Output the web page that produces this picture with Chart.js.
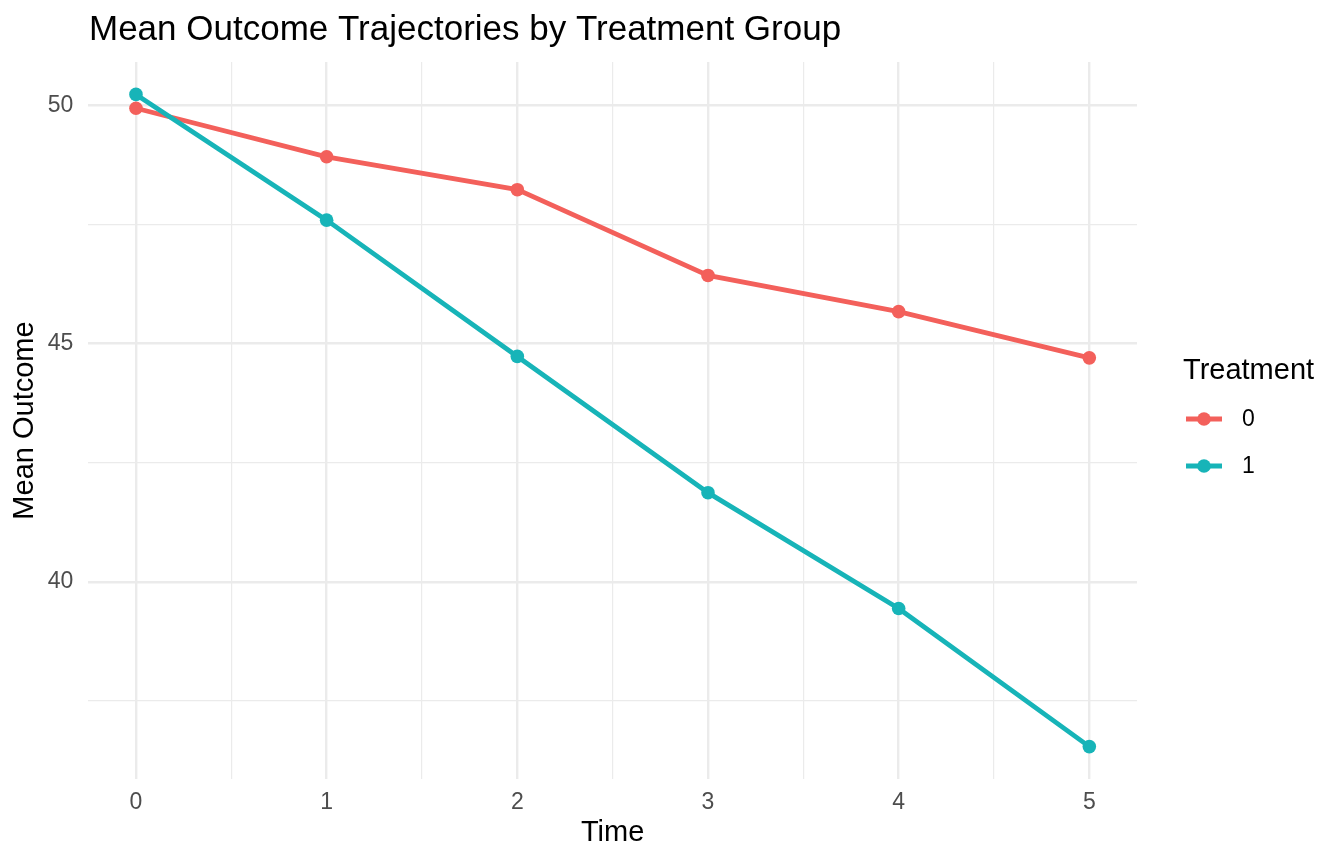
<!DOCTYPE html>
<html>
<head>
<meta charset="utf-8">
<title>Mean Outcome Trajectories by Treatment Group</title>
<script src="https://cdn.jsdelivr.net/npm/chart.js@4.4.1/dist/chart.umd.min.js"></script>
<style>
  html, body { margin: 0; padding: 0; background: #fff; }
  #wrap { width: 1344px; height: 864px; }
</style>
</head>
<body>
<div id="wrap"><canvas id="trajChart" width="1344" height="864"></canvas></div>
<script>
// values
const timePoints = [0, 1, 2, 3, 4, 5];
const groupNames = ["0", "1"];
const meanControl = [49.94, 48.92, 48.23, 46.43, 45.67, 44.70];
const meanTreated = [50.23, 47.59, 44.73, 41.87, 39.44, 36.54];
const xTickValues = [0, 0.5, 1, 1.5, 2, 2.5, 3, 3.5, 4, 4.5, 5];
const yTickValues = [37.5, 40, 42.5, 45, 47.5, 50];

const chartTitle = "Mean Outcome Trajectories by Treatment Group";
const legendTitle = "Treatment";
const lineColors = ["#F3605B", "#17B4B8"];

const FONT = "'Liberation Sans', Arial, Helvetica, sans-serif";
Chart.defaults.font.family = FONT;

const toPoints = (ys) => timePoints.map((t, i) => ({ x: t, y: ys[i] }));
const isMajor = (v) => Math.abs(v - Math.round(v)) < 1e-9;

// title and ggplot-style legend drawn on the canvas
const decor = {
  id: "decor",
  afterDraw(chart) {
    const ctx = chart.ctx;
    ctx.save();
    ctx.fillStyle = "#000";
    ctx.font = "35px " + FONT;
    ctx.textAlign = "left";
    ctx.textBaseline = "alphabetic";
    ctx.fillText(chartTitle, 89, 40);

    ctx.font = "29px " + FONT;
    ctx.fillText(legendTitle, 1183, 379);

    chart.data.datasets.forEach((ds, i) => {
      const y = 419 + i * 47;
      ctx.strokeStyle = ds.borderColor;
      ctx.lineWidth = 4.8;
      ctx.beginPath();
      ctx.moveTo(1186, y);
      ctx.lineTo(1222, y);
      ctx.stroke();
      ctx.fillStyle = ds.borderColor;
      ctx.beginPath();
      ctx.arc(1204, y, 6.8, 0, Math.PI * 2);
      ctx.fill();
      ctx.fillStyle = "#000";
      ctx.font = "23px " + FONT;
      ctx.textBaseline = "middle";
      ctx.fillText(ds.label, 1242, y + 1);
    });
    ctx.restore();
  }
};

new Chart(document.getElementById("trajChart"), {
  type: "line",
  data: {
    datasets: [
      {
        label: groupNames[0],
        data: toPoints(meanControl),
        borderColor: lineColors[0],
        backgroundColor: lineColors[0],
        order: 1
      },
      {
        label: groupNames[1],
        data: toPoints(meanTreated),
        borderColor: lineColors[1],
        backgroundColor: lineColors[1],
        order: 0
      }
    ]
  },
  options: {
    responsive: false,
    animation: false,
    devicePixelRatio: 1,
    layout: { padding: { top: 62, right: 207, bottom: 0, left: 0 } },
    elements: {
      line: { borderWidth: 4.8, tension: 0 },
      point: { radius: 6.8, borderWidth: 0, hoverRadius: 6.8 }
    },
    plugins: {
      legend: { display: false },
      title: { display: false },
      tooltip: { enabled: false }
    },
    scales: {
      x: {
        type: "linear",
        min: -0.25,
        max: 5.25,
        afterBuildTicks: (s) => { s.ticks = xTickValues.map(v => ({ value: v })); },
        afterFit: (s) => { s.height = 85; },
        ticks: {
          autoSkip: false,
          maxRotation: 0,
          padding: 10,
          color: "#4D4D4D",
          font: { size: 23 },
          callback: (v) => isMajor(v) ? String(v) : ""
        },
        grid: {
          color: "#EBEBEB",
          drawTicks: false,
          lineWidth: (c) => (c.tick && isMajor(c.tick.value)) ? 2.4 : 1.2
        },
        border: { display: false },
        title: {
          display: true,
          text: "Time",
          color: "#000",
          font: { size: 29 },
          padding: { top: 0, bottom: 14 }
        }
      },
      y: {
        type: "linear",
        min: 35.86,
        max: 50.91,
        afterBuildTicks: (s) => { s.ticks = yTickValues.map(v => ({ value: v })); },
        afterFit: (s) => { s.width = 88.3; },
        ticks: {
          padding: 15,
          color: "#4D4D4D",
          font: { size: 23 },
          callback: (v) => (v % 5 === 0) ? String(v) : ""
        },
        grid: {
          color: "#EBEBEB",
          drawTicks: false,
          lineWidth: (c) => (c.tick && c.tick.value % 5 === 0) ? 2.4 : 1.2
        },
        border: { display: false },
        title: {
          display: true,
          text: "Mean Outcome",
          color: "#000",
          font: { size: 29 },
          padding: { top: 8, bottom: 8 }
        }
      }
    }
  },
  plugins: [decor]
});
</script>
</body>
</html>
